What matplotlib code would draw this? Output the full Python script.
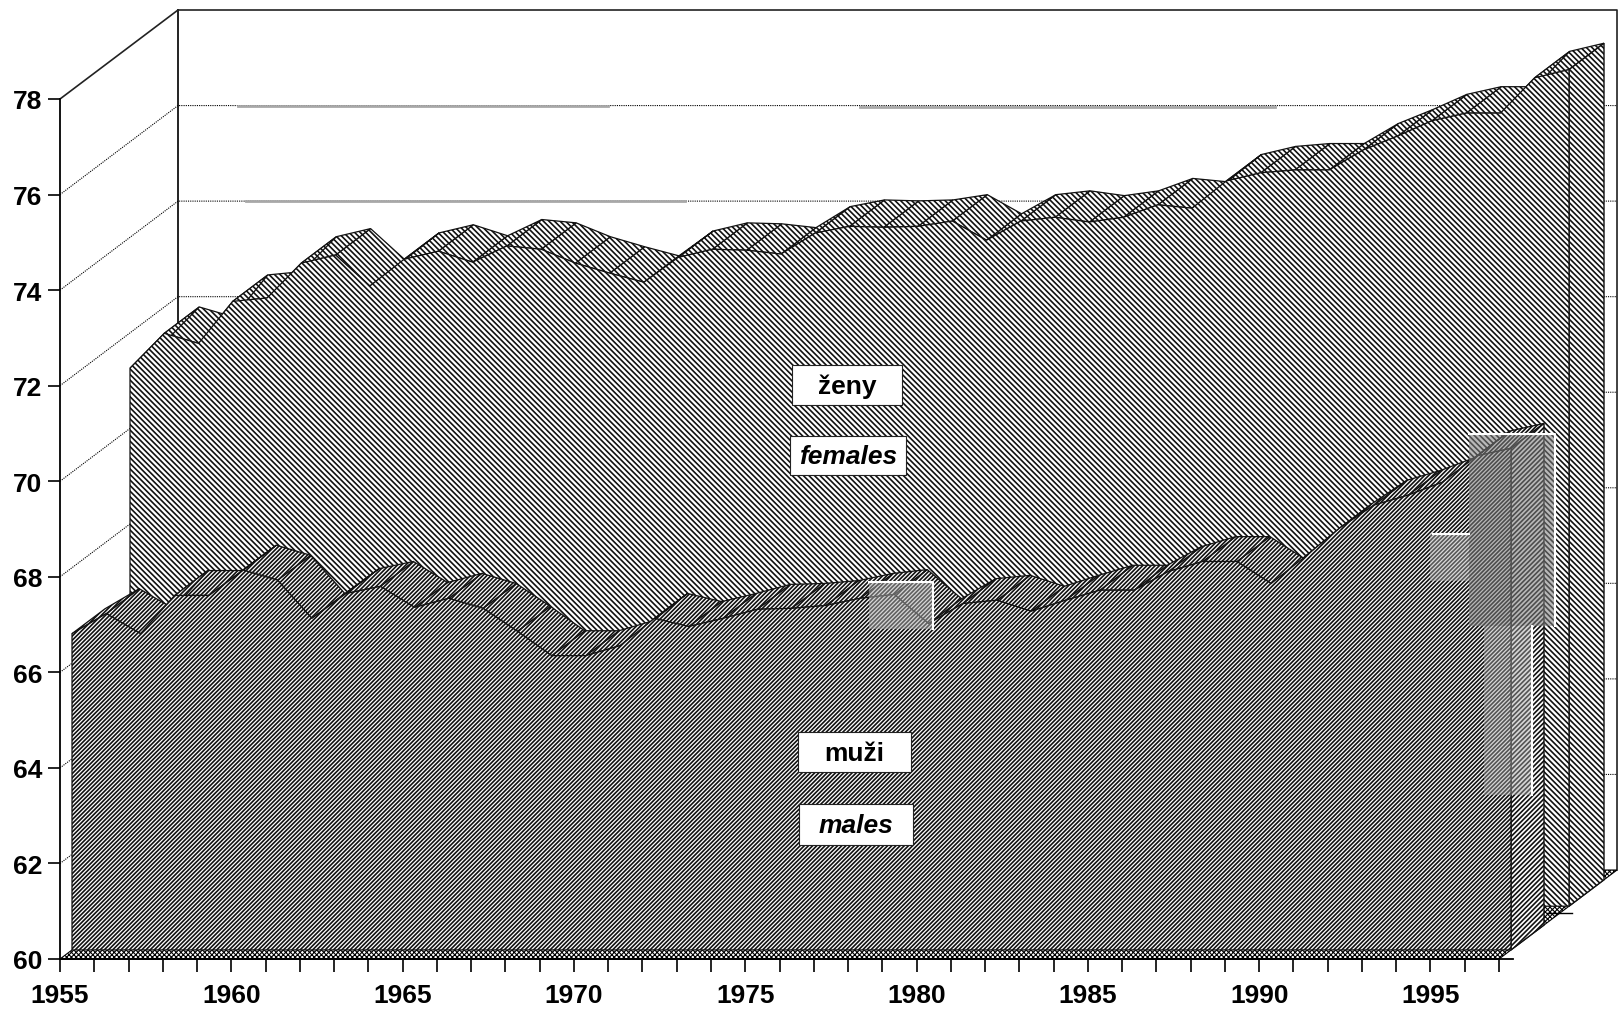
import matplotlib
matplotlib.use('Agg')
import matplotlib.pyplot as plt
from matplotlib.patches import Polygon, Rectangle

plt.rcParams['font.family'] = ['Liberation Sans', 'DejaVu Sans']
plt.rcParams['font.weight'] = 'bold'

W, H = 1619, 1012

years = list(range(1955, 1998))
females = [71.26, 71.99, 71.78, 72.66, 72.73, 73.46, 73.63, 72.98, 73.54, 73.71,
           73.48, 73.82, 73.75, 73.46, 73.25, 73.06, 73.58, 73.75, 73.73, 73.65,
           74.09, 74.23, 74.21, 74.23, 74.34, 73.94, 74.34, 74.42, 74.32, 74.42,
           74.68, 74.61, 75.18, 75.35, 75.41, 75.41, 75.83, 76.12, 76.44, 76.60,
           76.60, 77.34, 77.51]
males = [66.62, 67.04, 66.62, 67.42, 67.42, 67.95, 67.74, 66.94, 67.46, 67.61,
         67.17, 67.36, 67.15, 66.67, 66.16, 66.16, 66.37, 66.94, 66.77, 66.94,
         67.13, 67.15, 67.21, 67.36, 67.44, 66.83, 67.25, 67.32, 67.09, 67.32,
         67.53, 67.53, 67.92, 68.13, 68.13, 67.67, 68.24, 68.83, 69.31, 69.52,
         69.79, 70.34, 70.50]
y_ticks = [60, 62, 64, 66, 68, 70, 72, 74, 76, 78]
x_labels = [1955, 1960, 1965, 1970, 1975, 1980, 1985, 1990, 1995]

# oblique depth of the box, in data units at depth = 1
DEPTH_X = 118 / 34.26
DEPTH_Y = 89 / 47.78


def proj(year, value, depth):
    return (year + depth * DEPTH_X, value + depth * DEPTH_Y)


def draw_series(ax, values, d_front, d_back, hatch, side_hatch, lw, z):
    plt.rcParams['hatch.linewidth'] = lw
    # top ribbon, far end (right) first
    for i in range(len(years) - 2, -1, -1):
        quad = [proj(years[i], values[i], d_front),
                proj(years[i + 1], values[i + 1], d_front),
                proj(years[i + 1], values[i + 1], d_back),
                proj(years[i], values[i], d_back)]
        ax.add_patch(Polygon(quad, closed=True, facecolor='white', edgecolor='#111111',
                             hatch=hatch, linewidth=0.9, clip_on=False, zorder=z))
    # right side
    side = [proj(years[-1], 60, d_front), proj(years[-1], values[-1], d_front),
            proj(years[-1], values[-1], d_back), proj(years[-1], 60, d_back)]
    ax.add_patch(Polygon(side, closed=True, facecolor='white', edgecolor='#111111',
                         hatch=side_hatch, linewidth=1.0, clip_on=False, zorder=z))
    # front face
    face = [proj(years[0], 60, d_front)]
    face += [proj(y, v, d_front) for y, v in zip(years, values)]
    face += [proj(years[-1], 60, d_front)]
    ax.add_patch(Polygon(face, closed=True, facecolor='white', edgecolor='#111111',
                         hatch=hatch, linewidth=0.9, clip_on=False, zorder=z + 1))


fig = plt.figure(figsize=(W / 100, H / 100), dpi=100)
ax = fig.add_axes([60 / W, (H - 960) / H, (1499 - 60) / W, (960 - 100) / H])
ax.set_xlim(1955, 1997)
ax.set_ylim(60, 78)
ax.set_facecolor('none')
for s in ['top', 'right']:
    ax.spines[s].set_visible(False)
for s in ['left', 'bottom']:
    ax.spines[s].set_linewidth(1.3)
    ax.spines[s].set_zorder(20)

ax.set_yticks(y_ticks)
ax.set_xticks(years)
ax.set_xticklabels([str(y) if y in x_labels else '' for y in years])
ax.tick_params(axis='x', length=9.4, width=1.2, labelsize=19, pad=8)
ax.tick_params(axis='y', length=8.6, width=1.2, labelsize=19, pad=4)

# walls
x0, x1 = years[0], years[-1]
ax.plot(*zip(proj(x0, 78, 0), proj(x0, 78, 1), proj(x1, 78, 1), proj(x1, 60, 1)),
        color='#222222', lw=1.2, clip_on=False, zorder=1)
ax.plot(*zip(proj(x0, 60, 1), proj(x0, 78, 1)), color='#222222', lw=1.4, clip_on=False, zorder=1)

# dotted grid on the side and the back wall
for v in y_ticks[1:-1]:
    ax.plot(*zip(proj(x0, v, 0), proj(x0, v, 1), proj(x1, v, 1)), color='black', lw=0.8,
            ls=(0, (1, 1)), clip_on=False, zorder=1)

# floor
plt.rcParams['hatch.linewidth'] = 0.8
floor = [proj(x0, 60, 0), proj(x1, 60, 0), proj(x1, 60, 1), proj(x0, 60, 1)]
ax.add_patch(Polygon(floor, closed=True, facecolor='white', edgecolor='black',
                     hatch='xxxxxxx', linewidth=0.8, clip_on=False, zorder=2))
ax.plot([x0, x1 + 0.4], [60, 60], color='black', lw=1.3, clip_on=False, zorder=20)

draw_series(ax, females, 70 / 118, 105 / 118, '\\' * 6, '\\' * 6, 1.2, 3)
draw_series(ax, males, 12 / 118, 45 / 118, '/' * 8, '/' * 7, 1.2, 6)

# overlay in pixels for the scan patches and the text boxes
over = fig.add_axes([0, 0, 1, 1], zorder=5)
over.set_xlim(0, W)
over.set_ylim(H, 0)
over.axis('off')

# faded scan patches
for (px, py, pw, ph, c, a) in [(1469, 435, 86, 192, '#808080', 0.55),
                               (1484, 627, 48, 169, '#a8a8a8', 0.45),
                               (1430, 535, 39, 47, '#b0b0b0', 0.45),
                               (869, 583, 64, 47, '#b0b0b0', 0.5)]:
    over.add_patch(Rectangle((px, py), pw, ph, facecolor=c, alpha=a, edgecolor='none'))
over.plot([1469, 1555, 1555], [435, 435, 627], color='white', lw=1.5)
over.plot([1532, 1532], [627, 796], color='white', lw=1.5)
over.plot([1433, 1469], [535, 535], color='white', lw=1.5)
over.plot([869, 933, 933], [583, 583, 630], color='white', lw=1.5)

# faded grid streaks on the back wall
for (xa, xb, gy) in [(238, 608, 107), (860, 1275, 108), (246, 685, 202)]:
    over.plot([xa, xb], [gy, gy], color='#a8a8a8', lw=2.0, zorder=1)
over.plot([1547, 1572], [914, 914], color='black', lw=1.0)

# series labels
boxes = [('ženy', 'normal', 792, 366, 110, 40),
         ('females', 'italic', 790, 437, 116, 39),
         ('muži', 'normal', 798, 733, 113, 40),
         ('males', 'italic', 799, 805, 114, 41)]
for (txt, style, bx, by, bw, bh) in boxes:
    over.add_patch(Rectangle((bx, by), bw, bh, facecolor='white', edgecolor='#222222', lw=0.8))
    over.text(bx + bw / 2, by + bh / 2 + 1, txt, ha='center', va='center', fontsize=19,
              style=style, weight='bold', color='black')

fig.savefig('out.png', dpi=100)
